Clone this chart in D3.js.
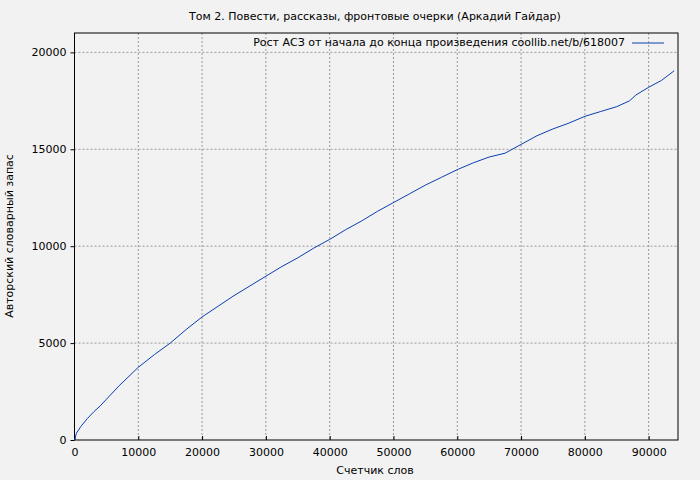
<!DOCTYPE html>
<html><head><meta charset="utf-8">
<script src="https://cdn.jsdelivr.net/npm/d3@7"></script>
<style>body{margin:0;background:#f2f2f2}text{font-family:"DejaVu Sans",sans-serif;font-size:11px}</style>
</head><body>
<script>
var words = [0,300,1000,2000,3000,4000,5000,7000,10000,12500,15000,17500,20000,22500,25000,27500,30000,32500,35000,37500,40000,42500,45000,47500,50000,52500,55000,57500,60000,62500,65000,67500,70000,72500,75000,77500,80000,82500,85000,87000,88000,90000,92000,94000];
var vocab = [0,350,700,1100,1450,1750,2100,2800,3750,4400,5000,5700,6350,6900,7450,7950,8450,8950,9400,9900,10350,10850,11300,11800,12250,12700,13150,13550,13950,14300,14600,14800,15250,15700,16050,16350,16700,16950,17200,17500,17800,18200,18550,19050];
var xTicks = [0,10000,20000,30000,40000,50000,60000,70000,80000,90000];
var yTicks = [0,5000,10000,15000,20000];

var m = {l:74.5, r:678, t:33, b:440};
var svg = d3.select("body").append("svg").attr("width",700).attr("height",480);
var x = d3.scaleLinear().domain([0,94600]).range([m.l,m.r]);
var y = d3.scaleLinear().domain([0,21000]).range([m.b,m.t]);

var grid = svg.append("g").attr("stroke","#999").attr("stroke-dasharray","2,2").attr("stroke-width",1);
xTicks.slice(1).forEach(function(t){grid.append("line").attr("x1",x(t)).attr("x2",x(t)).attr("y1",m.t).attr("y2",m.b);});
yTicks.slice(1).forEach(function(t){grid.append("line").attr("y1",y(t)).attr("y2",y(t)).attr("x1",m.l).attr("x2",m.r);});

svg.append("g").attr("transform","translate(0,"+m.b+")")
	.call(d3.axisBottom(x).tickValues(xTicks).tickFormat(d3.format("d")).tickSize(-4).tickPadding(8))
	.call(function(g){g.select(".domain").remove();g.selectAll("text").style("font-size","11px");});
svg.append("g").attr("transform","translate("+m.l+",0)")
	.call(d3.axisLeft(y).tickValues(yTicks).tickFormat(d3.format("d")).tickSize(4).tickPadding(4))
	.call(function(g){g.select(".domain").remove();g.selectAll("text").style("font-size","11px");});

svg.append("rect").attr("x",m.l).attr("y",m.t).attr("width",m.r-m.l).attr("height",m.b-m.t)
	.attr("fill","none").attr("stroke","#000").attr("stroke-width",1);

var line = d3.line().x(function(d,i){return x(words[i]);}).y(function(d){return y(d);});
svg.append("path").datum(vocab).attr("d",line).attr("fill","none").attr("stroke","#0a3fb0").attr("stroke-width",1);

svg.append("text").attr("x",375).attr("y",20).attr("text-anchor","middle").text("Том 2. Повести, рассказы, фронтовые очерки (Аркадий Гайдар)");
svg.append("text").attr("x",625).attr("y",46).attr("text-anchor","end").text("Рост АСЗ от начала до конца произведения coollib.net/b/618007");
svg.append("line").attr("x1",632).attr("x2",664).attr("y1",43).attr("y2",43).attr("stroke","#0a3fb0");
svg.append("text").attr("x",375).attr("y",474).attr("text-anchor","middle").text("Счетчик слов");
svg.append("text").attr("transform","translate(13,236) rotate(-90)").attr("text-anchor","middle").text("Авторский словарный запас");
</script>
</body></html>
